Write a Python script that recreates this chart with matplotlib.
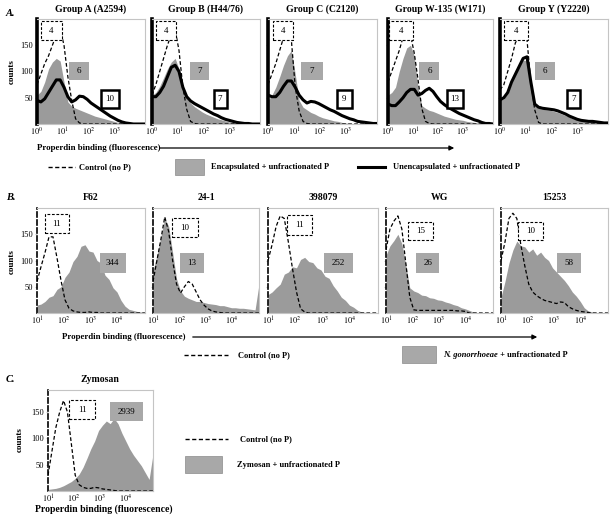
import matplotlib
matplotlib.use("Agg")
import matplotlib.pyplot as plt
import numpy as np
from matplotlib.patches import Rectangle
from matplotlib.ticker import NullLocator

plt.rcParams["font.family"] = ["Liberation Serif", "DejaVu Serif"]
plt.rcParams["mathtext.fontset"] = "stix"

W, H = 614, 521

# --- data (log10 of fluorescence channel, counts) ---
A_LOG = [0.0, 0.15, 0.3, 0.45, 0.6, 0.75, 0.9, 1.05, 1.2, 1.35, 1.5, 1.65, 1.8, 1.95,
         2.1, 2.25, 2.4, 2.55, 2.7, 2.85, 3.0, 3.15, 3.3, 3.45, 3.6, 3.75, 3.9, 4.05, 4.2]
B_LOG = [1.0, 1.15, 1.3, 1.45, 1.6, 1.75, 1.9, 2.05, 2.2, 2.35, 2.5, 2.65, 2.8, 2.95,
         3.1, 3.25, 3.4, 3.55, 3.7, 3.85, 4.0, 4.15, 4.3, 4.45, 4.6, 4.75, 4.9, 5.05]

A_TITLES = ["Group A (A2594)", "Group B (H44/76)", "Group C (C2120)",
            "Group W-135 (W171)", "Group Y (Y2220)"]
A1_CTRL = [75, 95, 115, 130, 150, 170, 182, 150, 90, 45, 10, 2, 0, 0, 0,
           0, 0, 0, 0, 0, 0, 0, 0, 0, 0, 0, 0, 0, 0]
A1_ENC = [55, 62, 80, 105, 118, 125, 120, 80, 42, 34, 30, 27, 24, 21, 18,
          15, 13, 11, 9, 7, 5, 3, 2, 1, 0, 0, 0, 0, 0]
A1_UNENC = [45, 42, 48, 60, 72, 84, 84, 70, 52, 42, 46, 53, 52, 47, 40,
            35, 30, 25, 20, 15, 11, 7, 4, 2, 1, 0, 0, 0, 0]
A2_CTRL = [55, 75, 100, 125, 150, 170, 180, 140, 70, 28, 5, 1, 0, 0, 0,
           0, 0, 0, 0, 0, 0, 0, 0, 0, 0, 0, 0, 0, 0]
A2_ENC = [55, 60, 72, 88, 105, 118, 125, 105, 65, 48, 40, 33, 28, 23, 19,
          16, 13, 10, 8, 6, 4, 3, 2, 1, 1, 0, 0, 0, 0]
A2_UNENC = [52, 52, 60, 72, 90, 108, 112, 100, 70, 52, 44, 39, 35, 31, 27,
            23, 19, 16, 12, 9, 7, 5, 3, 2, 1, 1, 0, 0, 0]
A3_CTRL = [75, 95, 115, 140, 165, 180, 160, 70, 25, 5, 1, 0, 0, 0, 0,
           0, 0, 0, 0, 0, 0, 0, 0, 0, 0, 0, 0, 0, 0]
A3_ENC = [45, 55, 70, 90, 112, 130, 140, 95, 45, 32, 27, 22, 19, 15, 12,
          10, 8, 6, 5, 3, 2, 1, 1, 0, 0, 0, 0, 0, 0]
A3_UNENC = [55, 52, 52, 60, 72, 82, 82, 70, 55, 46, 40, 43, 42, 39, 35,
            31, 27, 24, 20, 16, 13, 10, 8, 5, 4, 3, 2, 1, 1]
A4_CTRL = [80, 100, 120, 140, 165, 180, 170, 135, 85, 30, 5, 1, 0, 0, 0,
           0, 0, 0, 0, 0, 0, 0, 0, 0, 0, 0, 0, 0, 0]
A4_ENC = [55, 60, 70, 100, 125, 145, 150, 130, 70, 35, 30, 26, 24, 21, 18,
          15, 13, 11, 9, 8, 7, 5, 4, 3, 2, 1, 1, 0, 0]
A4_UNENC = [38, 35, 35, 42, 50, 60, 66, 66, 55, 58, 64, 68, 62, 52, 43,
            37, 32, 28, 24, 20, 17, 14, 11, 8, 6, 3, 1, 1, 0]
A5_CTRL = [65, 75, 100, 125, 155, 165, 170, 160, 80, 27, 3, 0, 0, 0, 0,
           0, 0, 0, 0, 0, 0, 0, 0, 0, 0, 0, 0, 0, 0]
A5_ENC = [45, 48, 58, 78, 95, 110, 122, 120, 70, 36, 30, 28, 27, 26, 24,
          22, 19, 16, 13, 10, 8, 6, 5, 4, 4, 3, 3, 3, 5]
A5_UNENC = [46, 50, 60, 80, 95, 110, 125, 128, 80, 38, 32, 30, 29, 28, 27,
            25, 22, 19, 15, 12, 9, 7, 6, 5, 5, 4, 3, 2, 2]
A_CTRL_MFI = [4, 4, 4, 4, 4]
A_ENC_MFI = [6, 7, 7, 6, 6]
A_UNENC_MFI = [10, 7, 9, 13, 7]

B_TITLES = ["F62", "24-1", "398079", "WG", "15253"]
B1_CTRL = [60, 88, 115, 145, 145, 105, 62, 25, 9, 4, 2, 1, 1, 2,
           1, 1, 0, 0, 0, 0, 0, 0, 0, 0, 0, 0, 0, 0]
B1_NG = [15, 17, 22, 30, 33, 45, 50, 68, 78, 98, 108, 127, 130, 118,
         116, 100, 95, 72, 64, 48, 40, 24, 13, 7, 5, 3, 2, 1]
B2_CTRL = [60, 100, 140, 183, 155, 100, 55, 38, 50, 60, 55, 40, 25, 15,
           8, 4, 2, 1, 0, 0, 0, 0, 0, 0, 0, 0, 0, 0]
B2_NG = [80, 110, 145, 180, 165, 115, 65, 42, 32, 28, 25, 22, 22, 20,
         18, 17, 16, 14, 14, 12, 10, 10, 9, 9, 8, 7, 6, 55]
B3_CTRL = [100, 130, 165, 185, 180, 135, 85, 40, 8, 2, 0, 0, 0, 0,
           0, 0, 0, 0, 0, 0, 0, 0, 0, 0, 0, 0, 0, 0]
B3_NG = [35, 40, 48, 55, 74, 78, 88, 86, 102, 106, 98, 96, 86, 82,
         70, 66, 52, 42, 30, 24, 15, 11, 5, 2, 1, 0, 0, 0]
B4_CTRL = [120, 160, 175, 185, 160, 95, 30, 6, 5, 5, 5, 5, 5, 5,
           5, 5, 5, 5, 4, 4, 3, 0, 0, 0, 0, 0, 0, 0]
B4_NG = [110, 128, 138, 150, 132, 92, 48, 42, 39, 34, 33, 29, 28, 25,
         24, 21, 19, 16, 14, 10, 8, 5, 2, 1, 0, 0, 0, 0]
B5_CTRL = [100, 135, 180, 190, 180, 130, 90, 55, 40, 33, 28, 24, 22, 20,
           18, 21, 20, 12, 8, 5, 3, 2, 1, 0, 0, 0, 0, 0]
B5_NG = [30, 60, 95, 120, 137, 128, 126, 116, 122, 110, 116, 106, 100, 86,
         78, 70, 62, 52, 40, 32, 22, 10, 4, 2, 1, 0, 0, 0]
B_CTRL_MFI = [11, 10, 11, 15, 10]
B_NG_MFI = [344, 13, 252, 26, 58]

C_CTRL = [30, 75, 120, 150, 172, 150, 90, 30, 12, 7, 5, 5, 7, 6,
          4, 3, 2, 1, 0, 0, 0, 0, 0, 0, 0, 0, 0, 0]
C_ZYM = [3, 4, 5, 7, 10, 14, 18, 24, 32, 45, 62, 80, 95, 115,
         125, 133, 128, 138, 128, 110, 95, 80, 68, 58, 48, 35, 22, 70]
C_CTRL_MFI = 11
C_ZYM_MFI = 2939

# --- layout (pixels) ---
A_LEFT = [37, 152, 268, 388, 500]
A_RIGHT = [145, 260, 377, 493, 608]
B_LEFT = [37, 153, 268, 386, 501]
B_RIGHT = [145, 259, 378, 493, 608]
A_DASH_X = [(0.04, 0.23), (0.04, 0.22), (0.05, 0.23), (0.01, 0.24), (0.04, 0.26)]
A_GRAY_X = [(0.30, 0.48), (0.35, 0.53), (0.30, 0.50), (0.30, 0.49), (0.32, 0.51)]
A_SOLID_X = [(0.59, 0.76), (0.57, 0.69), (0.63, 0.77), (0.56, 0.71), (0.62, 0.74)]
B_DASH = [(0.07, 0.30, 0.76, 0.94), (0.18, 0.42, 0.72, 0.90), (0.17, 0.40, 0.74, 0.93),
          (0.21, 0.44, 0.70, 0.87), (0.16, 0.39, 0.70, 0.87)]
B_GRAY_X = [(0.58, 0.82), (0.25, 0.48), (0.51, 0.77), (0.28, 0.50), (0.52, 0.75)]

FILL = "#9b9b9b"
BOXGRAY = "#a8a8a8"
FRAME = "#c4c4c4"
DASH = (0, (3, 1.8))
LEG_FS = 6.0

fig = plt.figure(figsize=(W / 100, H / 100), dpi=100)
ov = fig.add_axes([0, 0, 1, 1])
ov.set_xlim(0, W)
ov.set_ylim(H, 0)
ov.axis("off")


def hist_axes(l, r, t, b, xlim, ylim, ticks, labels, show_y, left_style):
    ax = fig.add_axes([l / W, 1 - b / H, (r - l) / W, (b - t) / H])
    ax.set_xscale("log")
    ax.set_xlim(*xlim)
    ax.set_ylim(*ylim)
    for s in ("top", "right", "bottom"):
        ax.spines[s].set_color(FRAME)
        ax.spines[s].set_linewidth(0.8)
    ax.spines["left"].set_color("black")
    if left_style == "solid":
        ax.spines["left"].set_linewidth(2.6)
    else:
        ax.spines["left"].set_linewidth(1.2)
        ax.spines["left"].set_linestyle(DASH)
    ax.set_xticks(ticks)
    ax.set_xticklabels(labels)
    ax.xaxis.set_minor_locator(NullLocator())
    ax.tick_params(axis="x", length=0, pad=1.5, labelsize=6)
    ax.set_yticks([50, 100, 150])
    ax.set_yticklabels(["50", "100", "150"] if show_y else [])
    ax.tick_params(axis="y", length=1.5, color=FRAME, pad=1.5, labelsize=6)
    return ax


def numbox(ax, x0, x1, y0, y1, txt, kind):
    if kind == "dash":
        r = Rectangle((x0, y0), x1 - x0, y1 - y0, transform=ax.transAxes,
                      facecolor="white", edgecolor="black", lw=0.8, ls=(0, (2.5, 1.5)))
    elif kind == "gray":
        r = Rectangle((x0, y0), x1 - x0, y1 - y0, transform=ax.transAxes,
                      facecolor=BOXGRAY, edgecolor="none")
    else:
        r = Rectangle((x0, y0), x1 - x0, y1 - y0, transform=ax.transAxes,
                      facecolor="white", edgecolor="black", lw=1.8)
    r.set_zorder(5)
    r.set_clip_on(False)
    ax.add_patch(r)
    ax.text((x0 + x1) / 2, (y0 + y1) / 2, str(txt), transform=ax.transAxes,
            ha="center", va="center", fontsize=6.5, zorder=6)


# --- panel A ---
a_sets = [(A1_CTRL, A1_ENC, A1_UNENC), (A2_CTRL, A2_ENC, A2_UNENC),
          (A3_CTRL, A3_ENC, A3_UNENC), (A4_CTRL, A4_ENC, A4_UNENC),
          (A5_CTRL, A5_ENC, A5_UNENC)]
xa = 10 ** np.array(A_LOG)
a_lab = [r"$10^{0}$", r"$10^{1}$", r"$10^{2}$", r"$10^{3}$"]
for i, (ctrl, enc, unenc) in enumerate(a_sets):
    ax = hist_axes(A_LEFT[i], A_RIGHT[i], 19, 124, (1, 10 ** 4.2), (0, 200),
                   [1, 10, 100, 1000], a_lab, i == 0, "solid")
    ax.fill_between(xa, enc, color=FILL, lw=0, zorder=1)
    ax.plot(xa, ctrl, color="black", lw=0.9, ls=DASH, zorder=2)
    ax.plot(xa, unenc, color="black", lw=2.2, zorder=3, solid_joinstyle="round")
    numbox(ax, *A_DASH_X[i], 0.80, 0.98, A_CTRL_MFI[i], "dash")
    numbox(ax, *A_GRAY_X[i], 0.42, 0.59, A_ENC_MFI[i], "gray")
    numbox(ax, *A_SOLID_X[i], 0.15, 0.32, A_UNENC_MFI[i], "solid")
    ov.text((A_LEFT[i] + A_RIGHT[i]) / 2, 9, A_TITLES[i], ha="center", va="center",
            fontsize=7, fontweight="bold")

ov.text(6, 14, "A.", fontsize=7.5, fontweight="bold", style="italic", va="center")
ov.text(12, 72, "counts", rotation=90, ha="center", va="center", fontsize=6.5,
        fontweight="bold")
ov.text(37, 148, "Properdin binding (fluorescence)", va="center", fontsize=6.3,
        fontweight="bold")
ov.annotate("", xy=(457, 148), xytext=(157, 148),
            arrowprops=dict(arrowstyle="-|>", color="black", lw=0.9, mutation_scale=7))
ov.plot([48, 75], [167, 167], color="black", lw=1, ls=DASH)
ov.text(79, 167, "Control (no P)", va="center", fontsize=LEG_FS, fontweight="bold")
ov.add_patch(Rectangle((175, 159), 29, 16, facecolor=BOXGRAY, edgecolor="#8a8a8a", lw=0.5))
ov.text(211, 167, "Encapsulated + unfractionated P", va="center", fontsize=LEG_FS,
        fontweight="bold")
ov.plot([358, 385], [167, 167], color="black", lw=2.2)
ov.text(393, 167, "Unencapsulated + unfractionated P", va="center", fontsize=LEG_FS,
        fontweight="bold")

# --- panel B ---
b_sets = [(B1_CTRL, B1_NG), (B2_CTRL, B2_NG), (B3_CTRL, B3_NG),
          (B4_CTRL, B4_NG), (B5_CTRL, B5_NG)]
xb = 10 ** np.array(B_LOG)
b_lab = [r"$10^{1}$", r"$10^{2}$", r"$10^{3}$", r"$10^{4}$"]
for i, (ctrl, ng) in enumerate(b_sets):
    ax = hist_axes(B_LEFT[i], B_RIGHT[i], 208, 313, (10, 10 ** 5.05), (0, 200),
                   [10, 100, 1000, 10000], b_lab, i == 0, "dash")
    ax.fill_between(xb, ng, color=FILL, lw=0, zorder=1)
    ax.plot(xb, ctrl, color="black", lw=0.9, ls=DASH, zorder=2)
    numbox(ax, *B_DASH[i], B_CTRL_MFI[i], "dash")
    numbox(ax, *B_GRAY_X[i], 0.38, 0.57, B_NG_MFI[i], "gray")
    ov.text((B_LEFT[i] + B_RIGHT[i]) / 2, 198, B_TITLES[i], ha="center", va="center",
            fontsize=7, fontweight="bold")

ov.text(6, 198, "B.", fontsize=7.5, fontweight="bold", style="italic", va="center")
ov.text(12, 262, "counts", rotation=90, ha="center", va="center", fontsize=6.5,
        fontweight="bold")
ov.text(62, 337, "Properdin binding (fluorescence)", va="center", fontsize=6.3,
        fontweight="bold")
ov.annotate("", xy=(540, 337), xytext=(190, 337),
            arrowprops=dict(arrowstyle="-|>", color="black", lw=0.9, mutation_scale=7))
ov.plot([184, 228], [355, 355], color="black", lw=1, ls=DASH)
ov.text(238, 355, "Control (no P)", va="center", fontsize=LEG_FS, fontweight="bold")
ov.add_patch(Rectangle((402, 346), 34, 17, facecolor=BOXGRAY, edgecolor="#8a8a8a", lw=0.5))
t1 = ov.text(443, 355, "N. gonorrhoeae", va="center", fontsize=LEG_FS, fontweight="bold",
             style="italic")
ov.annotate(" + unfractionated P", xy=(1, 0.5), xycoords=t1, va="center",
            fontsize=LEG_FS, fontweight="bold")

# --- panel C ---
xc = 10 ** np.array(B_LOG)
ax = hist_axes(48, 153, 390, 491, (10, 10 ** 5.05), (0, 192),
               [10, 100, 1000, 10000], b_lab, True, "dash")
ax.fill_between(xc, C_ZYM, color=FILL, lw=0, zorder=1)
ax.plot(xc, C_CTRL, color="black", lw=0.9, ls=DASH, zorder=2)
numbox(ax, 0.20, 0.45, 0.71, 0.90, C_CTRL_MFI, "dash")
numbox(ax, 0.59, 0.90, 0.69, 0.88, C_ZYM_MFI, "gray")
ov.text(100, 380, "Zymosan", ha="center", va="center", fontsize=7, fontweight="bold")
ov.text(6, 380, "C.", fontsize=7.5, fontweight="bold", style="italic", va="center")
ov.text(20, 440, "counts", rotation=90, ha="center", va="center", fontsize=6.5,
        fontweight="bold")
ov.text(104, 509, "Properdin binding (fluorescence)", ha="center", va="center",
        fontsize=7, fontweight="bold")
ov.plot([185, 228], [439, 439], color="black", lw=1, ls=DASH)
ov.text(240, 439, "Control (no P)", va="center", fontsize=LEG_FS, fontweight="bold")
ov.add_patch(Rectangle((185, 456), 37, 17, facecolor=BOXGRAY, edgecolor="#8a8a8a", lw=0.5))
ov.text(237, 465, "Zymosan + unfractionated P", va="center", fontsize=LEG_FS,
        fontweight="bold")

fig.savefig("out.png", dpi=100, facecolor="white")
